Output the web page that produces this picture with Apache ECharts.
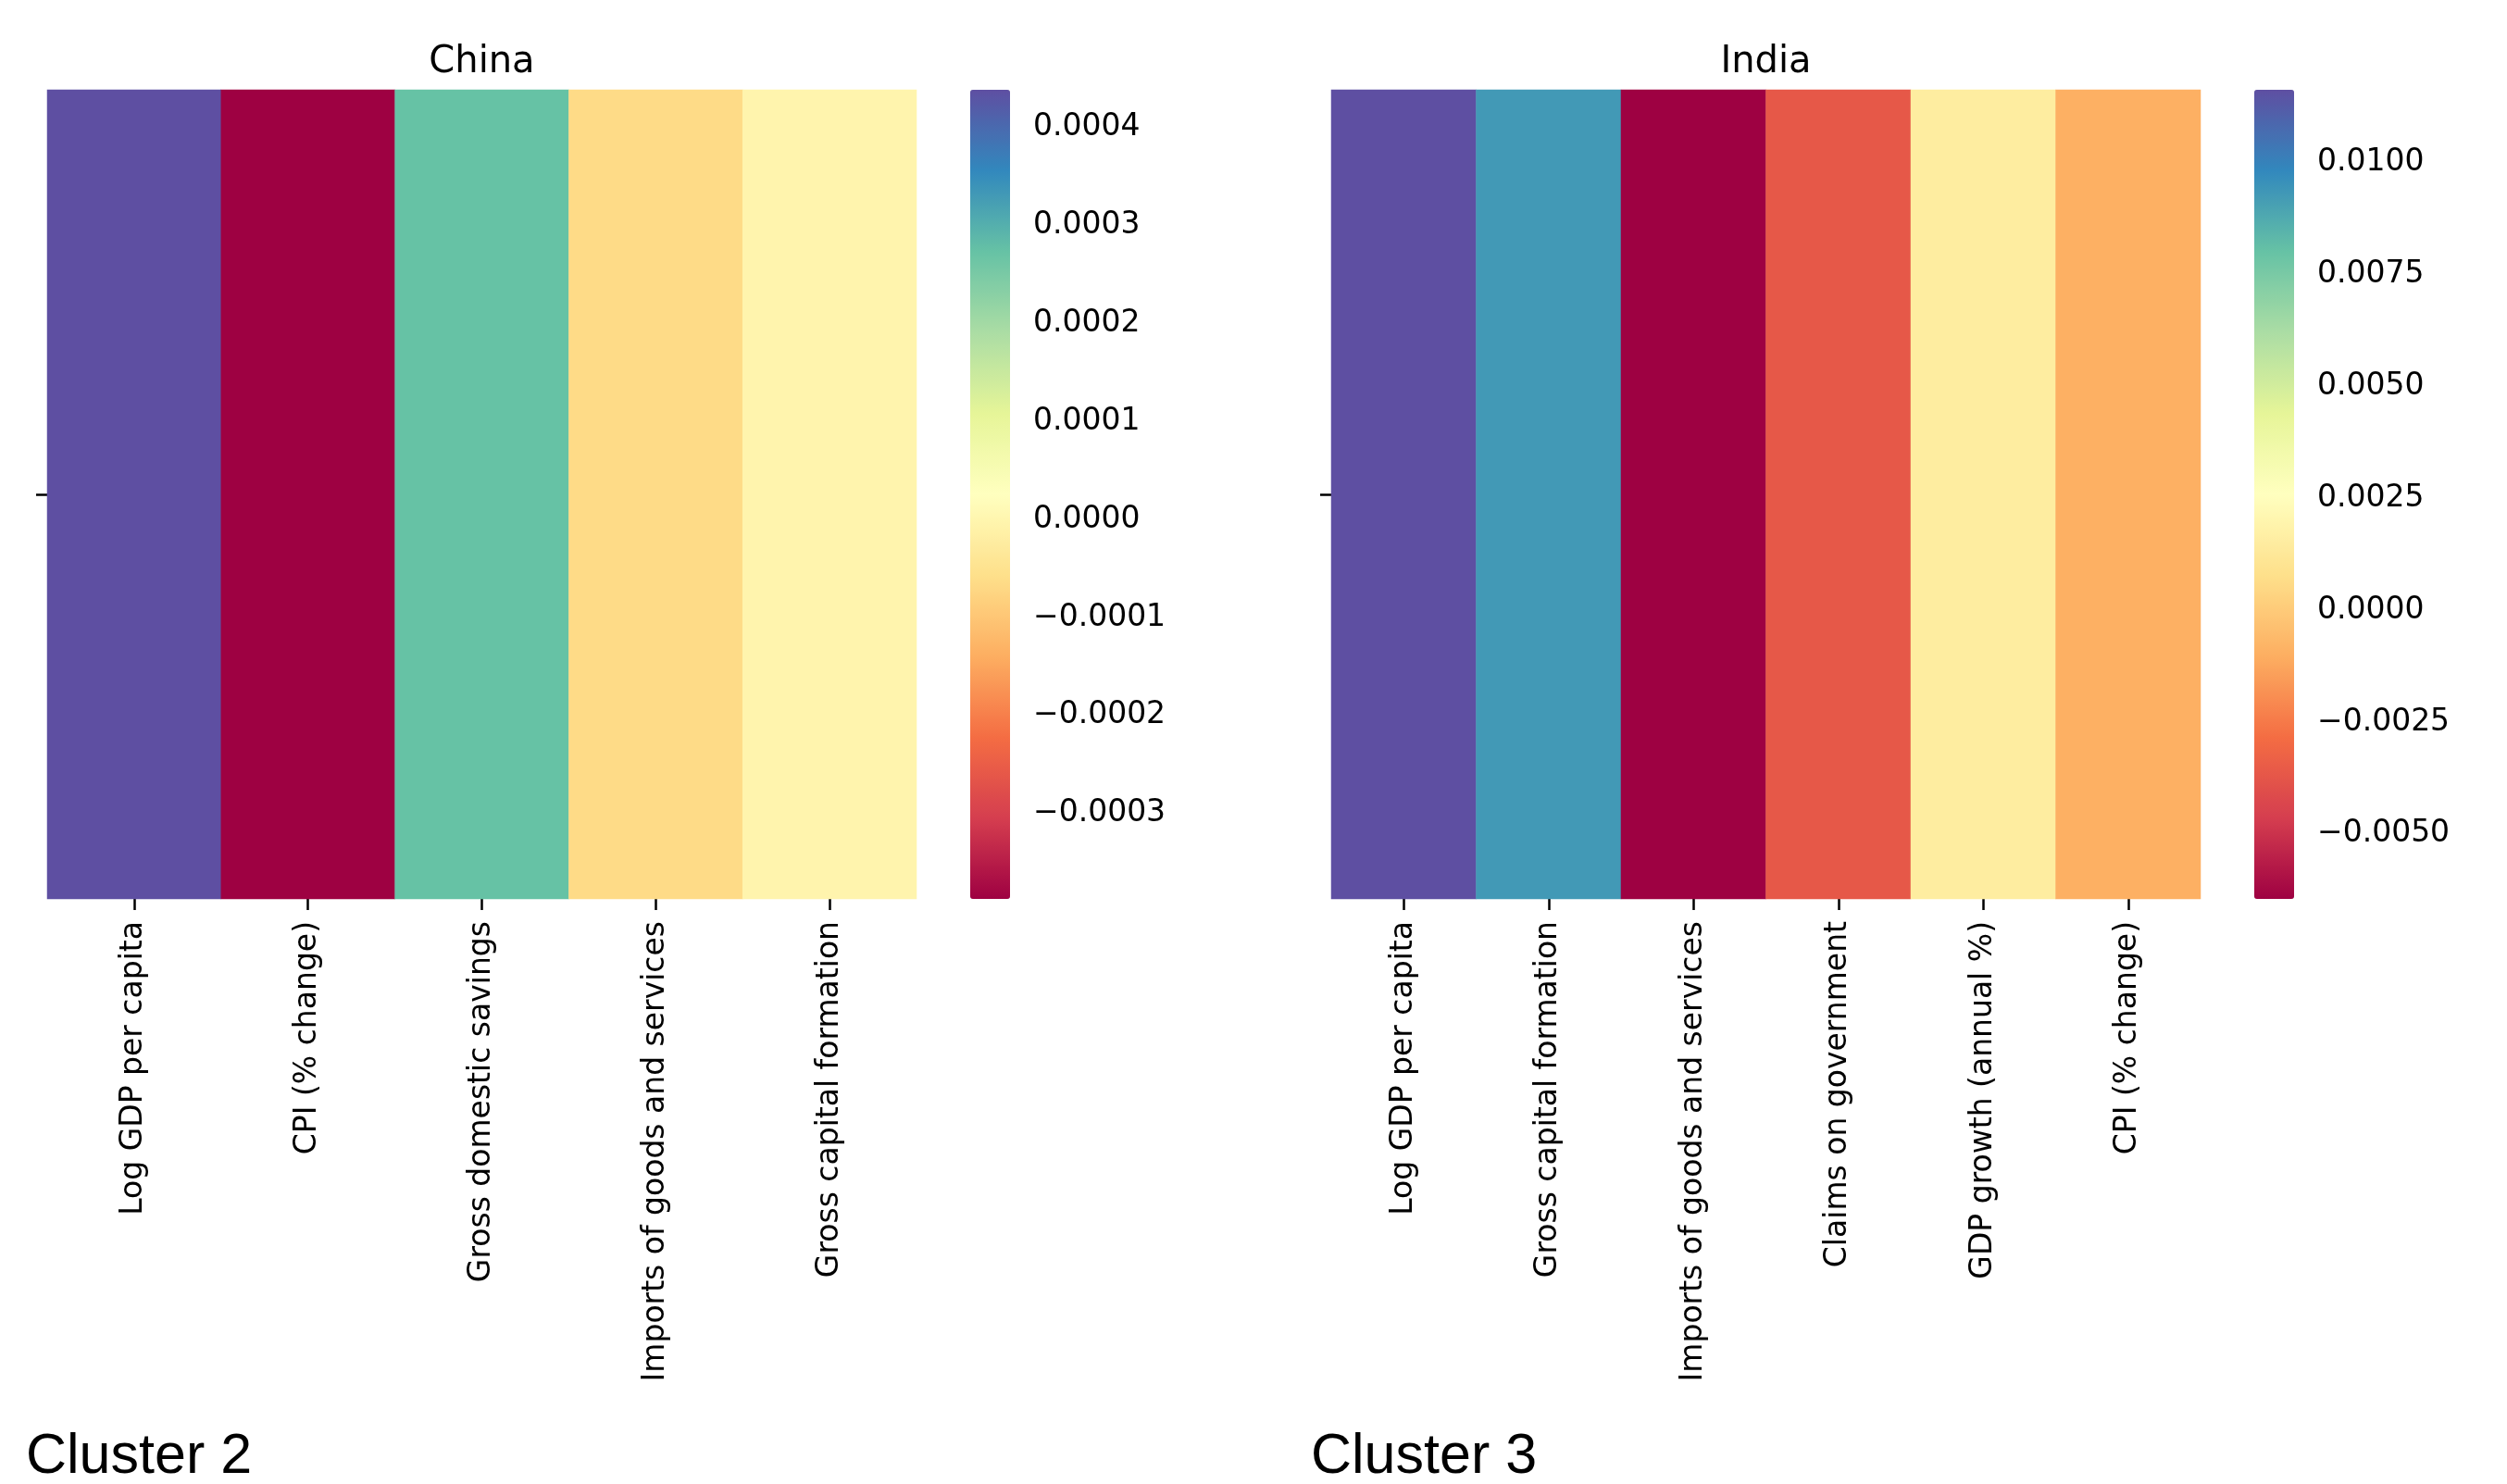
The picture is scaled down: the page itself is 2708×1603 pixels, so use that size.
<!DOCTYPE html>
<html><head><meta charset="utf-8">
<script src="https://cdn.jsdelivr.net/npm/echarts@6/dist/echarts.min.js"></script>
<style>html,body{margin:0;padding:0;background:#fff}#c{width:2708px;height:1603px}</style>
</head><body><div id="c"></div>
<script>
// ---- data ----
const chinaCategories = ['Log GDP per capita', 'CPI (% change)', 'Gross domestic savings', 'Imports of goods and services', 'Gross capital formation'];
const chinaValues = [0.000438, -0.000387, 0.000273, -0.000065, -0.000003];
const chinaTicks = [-0.0003, -0.0002, -0.0001, 0, 0.0001, 0.0002, 0.0003, 0.0004];

const indiaCategories = ['Log GDP per capita', 'Gross capital formation', 'Imports of goods and services', 'Claims on government', 'GDP growth (annual %)', 'CPI (% change)'];
const indiaValues = [0.01162, 0.00927, -0.00645, -0.00363, 0.00152, -0.00096];
const indiaTicks = [-0.005, -0.0025, 0, 0.0025, 0.005, 0.0075, 0.01];

const spectral = ['#9e0142', '#d53e4f', '#f46d43', '#fdae61', '#fee08b', '#ffffbf', '#e6f598', '#abdda4', '#66c2a5', '#3288bd', '#5e4fa2'];

// ---- layout ----
const FONT = 'DejaVu Sans';
const TOP = 97, H = 874;
const panels = [
  { title: 'China', cats: chinaCategories, vals: chinaValues, ticks: chinaTicks, hmLeft: 51, hmW: 939, cbLeft: 1048, cluster: 'Cluster 2', clusterX: 28 },
  { title: 'India', cats: indiaCategories, vals: indiaValues, ticks: indiaTicks, hmLeft: 1438, hmW: 939, cbLeft: 2435, cluster: 'Cluster 3', clusterX: 1416 }
];
const CBW = 43;

const fmt = v => (v < 0 ? '\u2212' : '') + Math.abs(v).toFixed(4);
const tickStyle = { show: true, length: 12, lineStyle: { color: '#000', width: 2.5 } };

const grid = [], xAxis = [], yAxis = [], series = [], visualMap = [], graphic = [];
panels.forEach((p, i) => {
  const vmin = Math.min(...p.vals), vmax = Math.max(...p.vals);
  const gH = grid.length;
  grid.push({ left: p.hmLeft, top: TOP, width: p.hmW, height: H });
  xAxis.push({
    gridIndex: gH, type: 'category', data: p.cats, position: 'bottom',
    axisLine: { show: false }, splitLine: { show: false }, splitArea: { show: false },
    axisTick: Object.assign({ alignWithLabel: true }, tickStyle),
    axisLabel: { rotate: 90, interval: 0, margin: 24, fontSize: 33, fontFamily: FONT, color: '#000' }
  });
  yAxis.push({
    gridIndex: gH, type: 'category', data: [''],
    axisLine: { show: false }, splitLine: { show: false }, splitArea: { show: false },
    axisTick: Object.assign({ alignWithLabel: true }, tickStyle),
    axisLabel: { show: true, fontSize: 33, fontFamily: FONT, color: '#000' }
  });
  series.push({
    type: 'heatmap', xAxisIndex: gH, yAxisIndex: gH,
    data: p.vals.map((v, k) => [k, 0, v]),
    itemStyle: { borderWidth: 0 },
    emphasis: { disabled: true }
  });
  const gC = grid.length;
  grid.push({ left: p.cbLeft, top: TOP, width: CBW, height: H });
  xAxis.push({ gridIndex: gC, type: 'value', show: false });
  yAxis.push({
    gridIndex: gC, type: 'value', position: 'right', min: vmin, max: vmax,
    axisLine: { show: false }, splitLine: { show: false },
    axisTick: Object.assign({ customValues: p.ticks }, tickStyle),
    axisLabel: { customValues: p.ticks, formatter: fmt, margin: 25, fontSize: 33, fontFamily: FONT, color: '#000', padding: [5, 0, 0, 0] }
  });
  visualMap.push({
    type: 'continuous', seriesIndex: i, dimension: 2, min: vmin, max: vmax,
    inRange: { color: spectral }, calculable: false, orient: 'vertical',
    left: p.cbLeft, top: TOP, itemWidth: CBW, itemHeight: H, padding: 0, text: null, hoverLink: false
  });
  graphic.push({
    type: 'text', x: p.hmLeft + p.hmW / 2, y: 68,
    style: { text: p.title, font: '40px "' + FONT + '"', fill: '#000', align: 'center', verticalAlign: 'middle' }
  });
  graphic.push({
    type: 'text', x: p.clusterX, y: 1574,
    style: { text: p.cluster, font: '61px "Liberation Sans"', fill: '#000', align: 'left', verticalAlign: 'middle' }
  });
});

const chart = echarts.init(document.getElementById('c'), null, { renderer: 'canvas' });
chart.setOption({
  backgroundColor: '#fff', animation: false,
  grid, xAxis, yAxis, series, visualMap, graphic
});
</script></body></html>
